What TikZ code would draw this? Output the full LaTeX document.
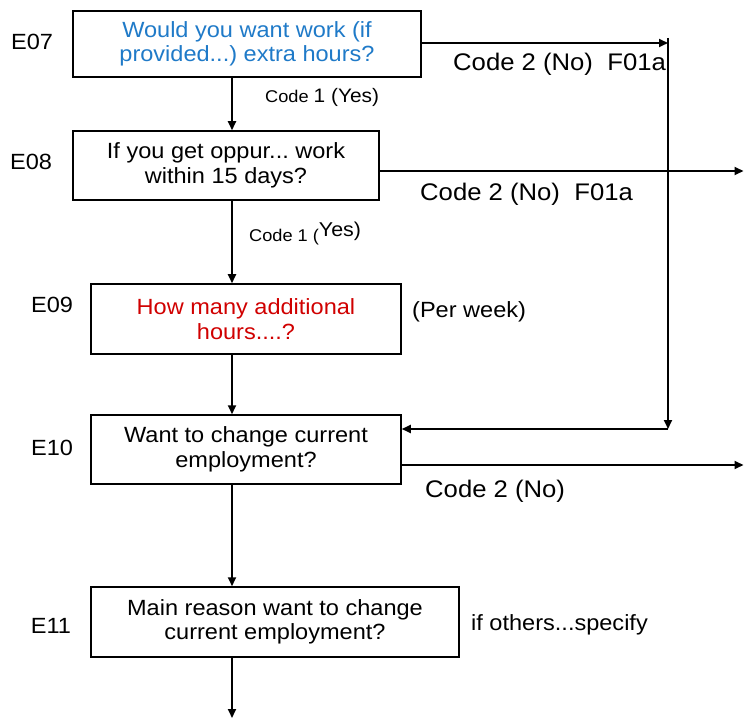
\documentclass[tikz,border=0pt]{standalone}
\usepackage{fontspec}
\setmainfont{Liberation Sans}[FakeStretch=1.07]
\usetikzlibrary{arrows.meta}
\definecolor{qblue}{HTML}{1F7AC8}
\definecolor{qred}{HTML}{D00000}
\frenchspacing
\begin{document}
\begin{tikzpicture}[x=1pt,y=-1pt,
  qbox/.style={draw, line width=1.5pt, inner sep=0pt, align=center, font=\fontsize{22}{24.5}\selectfont},
  qlab/.style={font=\fontsize{22}{24}\selectfont, inner sep=0pt},
  note/.style={font=\fontsize{22}{24}\selectfont, inner sep=0pt, anchor=base west},
  nolab/.style={font=\fontsize{24}{26}\selectfont, inner sep=0pt, anchor=base west},
  arr/.style={line width=1.8pt, -{Triangle[length=9pt,width=8pt]}},
  ln/.style={line width=1.8pt}]
\useasboundingbox (0,0) rectangle (744,719);
% boxes
\node[qbox, minimum width=348pt, minimum height=66pt, text=qblue] (e07) at (247,44) {Would you want work (if\\provided...) extra hours?};
\node[qbox, minimum width=306pt, minimum height=69pt] (e08) at (226,165.5) {If you get oppur... work\\within 15 days?};
\node[qbox, minimum width=310pt, minimum height=70pt, text=qred] (e09) at (246,319) {How many additional\\hours....?};
\node[qbox, minimum width=310pt, minimum height=69pt] (e10) at (246,449.5) {Want to change current\\employment?};
\node[qbox, minimum width=368pt, minimum height=70pt] (e11) at (275,622) {Main reason want to change\\current employment?};
% question labels
\node[qlab] (l07) at (32,42) {E07};
\node[qlab] (l08) at (31,162) {E08};
\node[qlab] (l09) at (52,304.5) {E09};
\node[qlab] (l10) at (52,448) {E10};
\node[qlab] (l11) at (51,626) {E11};
% notes
\node[nolab] (n07) at (453,70.5) {Code 2 (No)\ \ F01a};
\node[nolab] (n08) at (420,201) {Code 2 (No)\ \ F01a};
\node[nolab] (n10) at (425,497) {Code 2 (No)};
\node[note] (pw) at (412,317) {(Per week)};
\node[note] (os) at (471,630) {if others...specify};
\node[anchor=base west, inner sep=0pt] (c07) at (265,103) {\fontsize{17}{20}\selectfont Code \fontsize{19.5}{22}\selectfont 1 (Yes)};
\node[anchor=base west, inner sep=0pt] (c08) at (249,242) {\fontsize{17}{20}\selectfont Code 1 (\raisebox{5pt}{\fontsize{20}{22}\selectfont Yes)}};
% coordinates
\coordinate (spine) at (232,0);
\coordinate (j1) at (668,38);
\coordinate (j0) at (668,43);
\coordinate (j2) at (668,429);
\coordinate (o8) at (743.5,171);
\coordinate (o10) at (743.5,465);
\coordinate (fin) at (232,718);
% connectors
\draw[arr] (e07.south -| spine) -- (e08.north -| spine);
\draw[arr] (e08.south -| spine) -- (e09.north -| spine);
\draw[arr] (e09.south -| spine) -- (e10.north -| spine);
\draw[arr] (e10.south -| spine) -- (e11.north -| spine);
\draw[arr] (e11.south -| spine) -- (fin);
\draw[arr] (j0 -| e07.east) -- (j0);
\draw[arr] (j1) -- (j2);
\draw[arr] (j2) -- (j2 -| e10.east);
\draw[arr] (o8 -| e08.east) -- (o8);
\draw[arr] (o10 -| e10.east) -- (o10);
\end{tikzpicture}
\end{document}
